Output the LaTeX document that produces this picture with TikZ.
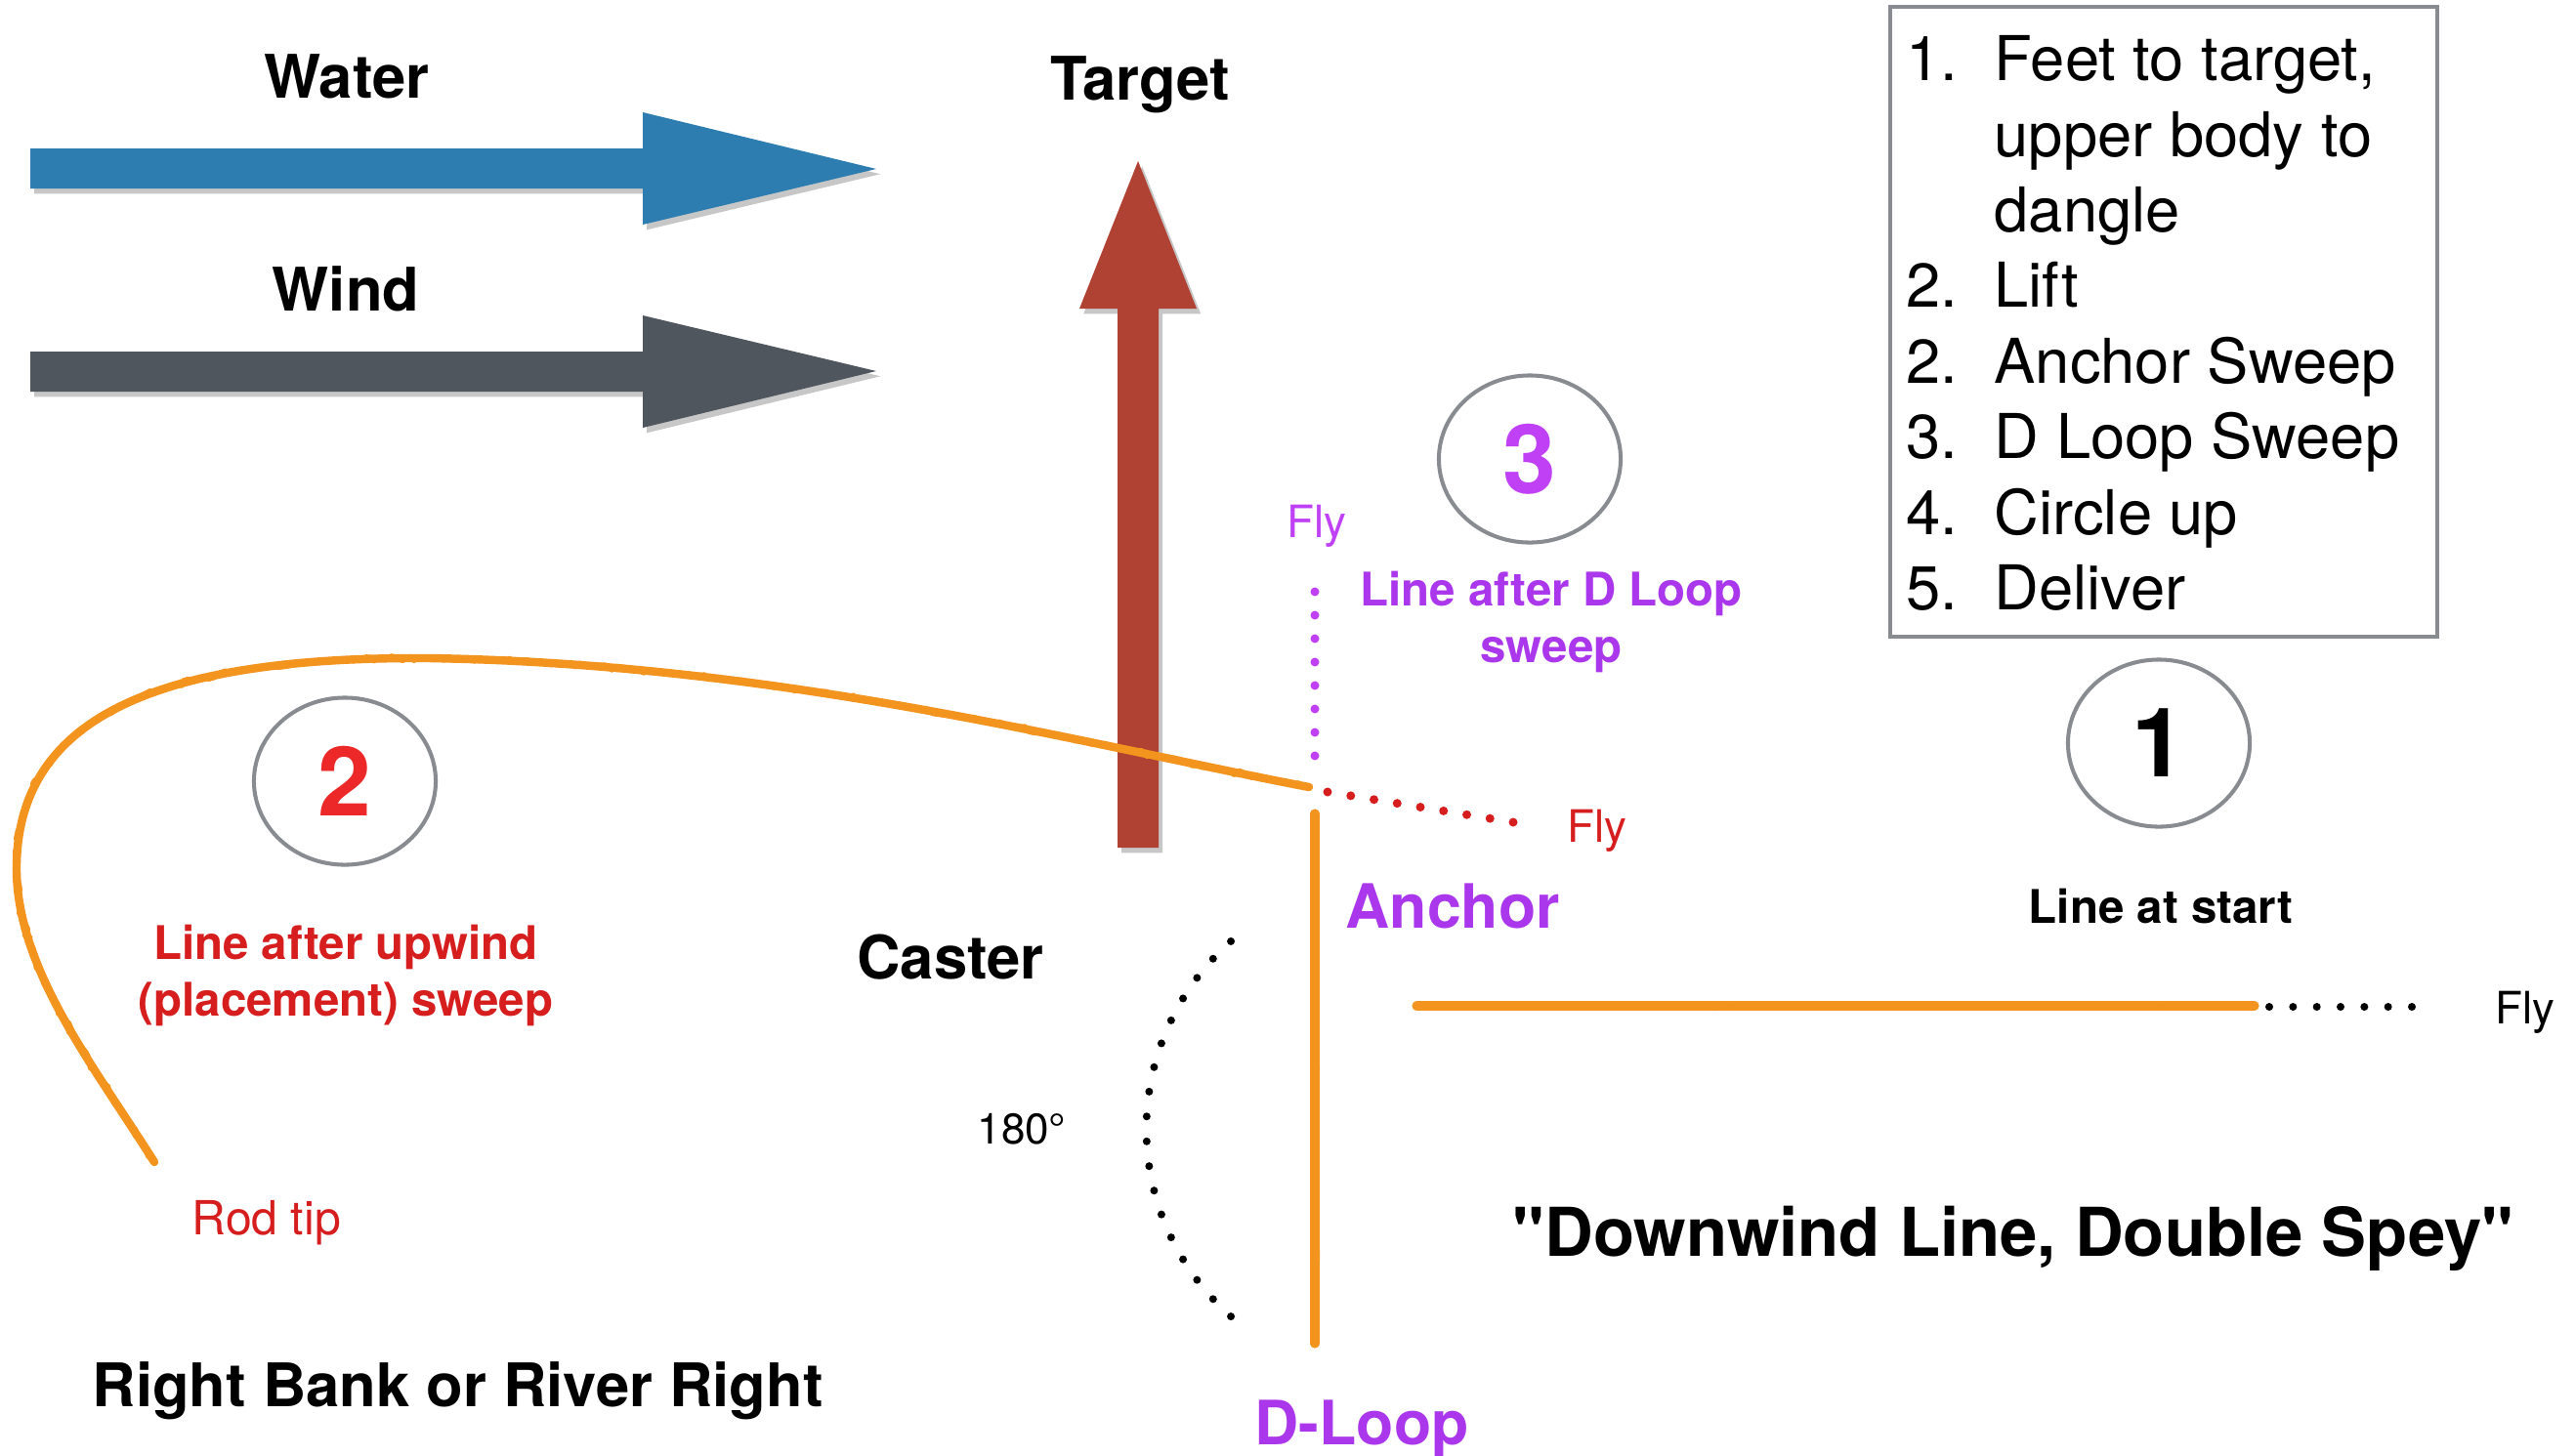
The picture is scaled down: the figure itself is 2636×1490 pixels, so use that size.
\documentclass[tikz,border=0pt]{standalone}
\usepackage{fontspec}
\setmainfont{TeX Gyre Heros}
\newfontfamily\plainheros{TeX Gyre Heros}
\usetikzlibrary{calc,shapes.geometric,shadows,decorations.pathmorphing}

\definecolor{waterblue}{RGB}{46,125,176}
\definecolor{windgrey}{RGB}{80,86,94}
\definecolor{targetred}{RGB}{175,66,50}
\definecolor{lineorange}{RGB}{243,148,30}
\definecolor{ringgrey}{RGB}{136,139,144}
\definecolor{sweepred}{RGB}{214,30,30}
\definecolor{brightred}{RGB}{236,40,40}
\definecolor{loopviolet}{RGB}{170,55,235}
\definecolor{brightviolet}{RGB}{192,65,245}

\tikzset{
  fat/.style={drop shadow={shadow xshift=1.2pt,shadow yshift=-1.5pt,fill=black,opacity=.22}},
  flyline/.style={lineorange,line width=2.6pt,line cap=round,line join=round,
    postaction={draw,line width=1.2pt,decorate,
      decoration={random steps,segment length=1.6pt,amplitude=.9pt}}},
  bigtag/.style={inner sep=0pt,anchor=base,font=\fontsize{17.5}{21}\selectfont\bfseries},
  smalltag/.style={inner sep=0pt,anchor=base,align=center,font=\fontsize{13.5}{16.4}\selectfont\bfseries},
  thintag/.style={inner sep=0pt,anchor=base west,font=\fontsize{13}{15}\selectfont},
  ring/.style={ellipse,draw=ringgrey,line width=1.15pt,minimum width=1.86cm,minimum height=1.71cm,
    inner sep=0pt,font=\fontsize{28}{30}\selectfont\bfseries},
}

\begin{document}
\begin{tikzpicture}[x=0.01cm,y=-0.01cm]
\useasboundingbox (0,0) rectangle (2636,1490);

% water, wind and target arrows
\fill[waterblue,fat](31,152)--(658,152)--(658,115)--(897,173)--(658,230)--(658,193)--(31,193)--cycle;
\fill[windgrey,fat](31,360)--(658,360)--(658,323)--(897,380)--(658,438)--(658,401)--(31,401)--cycle;
\fill[targetred,fat](1144,868)--(1144,316)--(1105,316)--(1165,165)--(1225,316)--(1186,316)--(1186,868)--cycle;
\node[bigtag] (water) at (355,100) {Water};
\node[bigtag] (wind) at (354,318) {Wind};
\node[bigtag] (target) at (1167,102) {Target};

% steps
\draw[ringgrey,line width=1.15pt] (1935,7) rectangle (2495,652);
\node[anchor=north west,inner sep=0pt,font=\fontsize{18}{22}\selectfont] (steps) at (1951,28) {%
\begin{tabular}{@{}p{25.6pt}@{}l@{}}
1.&Feet to target,\\
  &upper body to\\
  &dangle\\
2.&Lift\\
2.&Anchor Sweep\\
3.&D Loop Sweep\\
4.&Circle up\\
5.&Deliver
\end{tabular}};

% line positions
\coordinate (rodtip) at (158,1190);
\coordinate (sweepend) at (1340,806);
\coordinate (looptop) at (1346,833);
\coordinate (loopbot) at (1346,1376);
\coordinate (startL) at (1450,1030);
\coordinate (startR) at (2308,1030);

\draw[flyline,line width=2.4pt] (rodtip) .. controls (95,1090) and (15,990) .. (17,885)
  .. controls (20,740) and (150,672) .. (440,674)
  .. controls (800,680) and (1100,760) .. (sweepend);
\draw[flyline] (looptop) -- (loopbot);
\draw[flyline] (startL) -- (startR);

% fly positions (dotted leader)
\coordinate (v0) at (1346,774);
\coordinate (v1) at (1346,606);
\coordinate (r0) at (1359,811);
\coordinate (r1) at (1549,842);
\coordinate (b0) at (2323,1031);
\coordinate (b1) at (2469,1031);
\foreach \i in {0,...,7} \fill[brightviolet] ($(v0)!\i/7!(v1)$) circle (4.5);
\foreach \i in {0,...,8} \fill[sweepred] ($(r0)!\i/8!(r1)$) circle (4.5);
\foreach \i in {0,...,6} \fill[black] ($(b0)!\i/6!(b1)$) circle (4);
% 180 degree turn
\foreach \i in {0,...,17} \fill[black] ({1430+256.5*cos(131.5+\i*97/17)},{1156-256.5*sin(131.5+\i*97/17)}) circle (4);

\node[thintag,text=brightviolet] (flyV) at (1317,550) {Fly};
\node[thintag,text=sweepred] (flyR) at (1604,862) {Fly};
\node[thintag] (flyB) at (2554,1048) {Fly};
\node[thintag,text=sweepred,font=\fontsize{13.7}{16}\selectfont] (tip) at (196,1264) {Rod tip};
\node[thintag,anchor=base,font=\fontsize{12.5}{15}\selectfont] (angle) at (1046,1171) {180°};

% numbered stages
\node[ring,text=brightred] (two) at (353,800) {2};
\node[ring,text=brightviolet] (three) at (1566,470) {3};
\node[ring] (one) at (2210,761) {1};
\node[smalltag,text=sweepred] (upwind) at (354,1040) {Line after upwind\\(placement) sweep};
\node[smalltag,text=loopviolet] (dloop) at (1588,678) {Line after D Loop\\sweep};
\node[smalltag] (start) at (2212,945) {Line at start};

\node[bigtag,text=loopviolet,anchor=base west,font=\fontsize{17.8}{21}\selectfont\bfseries] (anchor) at (1377,950) {Anchor};
\node[bigtag,text=loopviolet,font=\fontsize{17.8}{21}\selectfont\bfseries] (dlooptag) at (1394,1479) {D-Loop};
\node[bigtag] (caster) at (973,1002) {Caster};
\node[bigtag,anchor=base west] (bank) at (94,1440) {Right Bank or River Right};
\node[bigtag,anchor=base west,font=\fontsize{19.6}{23}\plainheros\bfseries] (title) at (1548,1286) {"Downwind Line, Double Spey"};
\end{tikzpicture}
\end{document}
